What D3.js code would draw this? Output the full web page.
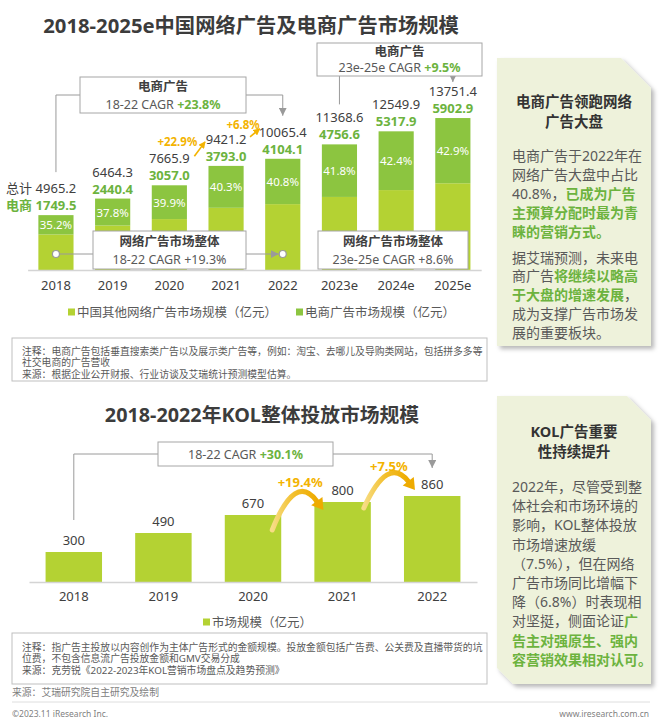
<!DOCTYPE html>
<html><head><meta charset="utf-8">
<script src="https://cdn.jsdelivr.net/npm/d3@7"></script>
<style>html,body{margin:0;padding:0;background:#fff;} svg{display:block;}</style>
</head><body><div id="chart"></div>
<script>
// ---------- DATA ----------
const years = ['2018','2019','2020','2021','2022','2023e','2024e','2025e'];
const totalValues = [4965.2, 6464.3, 7665.9, 9421.2, 10065.4, 11368.6, 12549.9, 13751.4];
const ecomValues = [1749.5, 2440.4, 3057.0, 3793.0, 4104.1, 4756.6, 5317.9, 5902.9];
const otherValues = [3215.7, 4023.9, 4608.9, 5628.2, 5961.3, 6612.0, 7232.0, 7848.5];
const ecomShareLabels = ['35.2%','37.8%','39.9%','40.3%','40.8%','41.8%','42.4%','42.9%'];
const topLegend = ['中国其他网络广告市场规模（亿元）', '电商广告市场规模（亿元）'];
const topTitle = '2018-2025e中国网络广告及电商广告市场规模';
const yoyLabels = ['+22.9%', '+6.8%'];

const kolYears = ['2018','2019','2020','2021','2022'];
const kolValues = [300, 490, 670, 800, 860];
const kolGrowth = ['+19.4%', '+7.5%'];
const kolTitle = '2018-2022年KOL整体投放市场规模';
const kolLegend = '市场规模（亿元）';

const note1 = ['注释：电商广告包括垂直搜索类广告以及展示类广告等，例如：淘宝、去哪儿及导购类网站，包括拼多多等',
               '社交电商的广告营收',
               '来源：根据企业公开财报、行业访谈及艾瑞统计预测模型估算。'];
const note2 = ['注释：指广告主投放以内容创作为主体广告形式的金额规模。投放金额包括广告费、公关费及直播带货的坑',
               '位费，不包含信息流广告投放金额和GMV交易分成',
               '来源：克劳锐《2022-2023年KOL营销市场盘点及趋势预测》'];
const panel1Title = ['电商广告领跑网络', '广告大盘'];
const panel1Body = [
  [['电商广告于2022年在',0]],
  [['网络广告大盘中占比',0]],
  [['40.8%，',0],['已成为广告',1]],
  [['主预算分配时最为青',1]],
  [['睐的营销方式。',1]],
  null,
  [['据艾瑞预测，未来电',0]],
  [['商广告',0],['将继续以略高',1]],
  [['于大盘的增速发展',1],['，',0]],
  [['成为支撑广告市场发',0]],
  [['展的重要板块。',0]]
];
const panel2Title = ['KOL广告重要', '性持续提升'];
const panel2Body = [
  [['2022年，尽管受到整',0]],
  [['体社会和市场环境的',0]],
  [['影响，KOL整体投放',0]],
  [['市场增速放缓',0]],
  [['（7.5%），但在网络',0]],
  [['广告市场同比增幅下',0]],
  [['降（6.8%）时表现相',0]],
  [['对坚挺，侧面论证',0],['广',1]],
  [['告主对强原生、强内',1]],
  [['容营销效果相对认可。',1]]
];

// ---------- SETUP ----------
const W = 660, H = 722;
const FONT = "'Noto Sans','Noto Sans CJK SC',sans-serif";
const C = {light:'#b4d233', dark:'#8cc540', green:'#6cb33e', orange:'#f3b300',
           text:'#404040', gray:'#595959', line:'#a6a6a6', panel:'#eef2db'};

const svg = d3.select('#chart').append('svg')
  .attr('width', W).attr('height', H).style('font-family', FONT);
svg.append('rect').attr('width', W).attr('height', H).attr('fill', '#fff');

const defs = svg.append('defs');
defs.append('marker').attr('id','garrow').attr('viewBox','0 0 10 10')
  .attr('refX',10).attr('refY',5).attr('markerWidth',8).attr('markerHeight',8)
  .attr('markerUnits','userSpaceOnUse').attr('orient','auto')
  .append('path').attr('d','M0,0 L10,5 L0,10 Z').attr('fill','#9a9a9a');
defs.append('marker').attr('id','oarrow').attr('viewBox','0 0 10 10')
  .attr('refX',9).attr('refY',5).attr('markerWidth',7).attr('markerHeight',7)
  .attr('markerUnits','userSpaceOnUse').attr('orient','auto')
  .append('path').attr('d','M0,0 L10,5 L0,10 Z').attr('fill',C.orange);
const f = defs.append('filter').attr('id','shadow').attr('x','-10%').attr('y','-10%').attr('width','130%').attr('height','130%');
f.append('feDropShadow').attr('dx',3).attr('dy',3).attr('stdDeviation',2).attr('flood-color','#000').attr('flood-opacity',0.28);

// ---------- TOP CHART ----------
svg.append('text').attr('x', 251).attr('y', 25).attr('text-anchor','middle')
  .attr('dominant-baseline','central').attr('font-size', 20.3).attr('font-weight','bold')
  .attr('fill', '#3c3c3c').text(topTitle);

const xTop = d3.scaleBand().domain(years).range([27.6, 481.2]).paddingInner(0.38).paddingOuter(0.19);
const yTop = d3.scaleLinear().domain([0, 14000]).range([270, 115.3]);
const xc = y => xTop(y) + xTop.bandwidth()/2;

const table = years.map((y,i) => ({year:y, other:otherValues[i], ecom:ecomValues[i]}));
const series = d3.stack().keys(['other','ecom'])(table);
const fills = {other:C.light, ecom:C.dark};

svg.append('g').selectAll('g').data(series).join('g').attr('fill', d => fills[d.key])
  .selectAll('rect').data(d => d).join('rect')
  .attr('x', d => xTop(d.data.year)).attr('width', xTop.bandwidth())
  .attr('y', d => yTop(d[1])).attr('height', d => yTop(d[0]) - yTop(d[1]));

const axTop = svg.append('g').attr('transform','translate(0,270)')
  .call(d3.axisBottom(xTop).tickSize(0).tickPadding(11));
axTop.select('.domain').attr('stroke','#d4d4d4').attr('stroke-width',1.5);
axTop.selectAll('text').attr('font-size',13).attr('fill',C.text).style('font-family',FONT);

// share labels
svg.append('g').selectAll('text').data(series[1]).join('text')
  .attr('x', d => xc(d.data.year)).attr('y', d => (yTop(d[0]) + yTop(d[1]))/2)
  .attr('text-anchor','middle').attr('dominant-baseline','central')
  .attr('font-size',11.5).attr('fill','#fff').text((d,i) => ecomShareLabels[i]);

// value labels
svg.append('g').selectAll('text').data(years).join('text')
  .attr('x', d => xc(d)).attr('y', (d,i) => yTop(totalValues[i]) - 27)
  .attr('text-anchor','middle').attr('dominant-baseline','central')
  .attr('font-size',13).attr('fill',C.text).text((d,i) => totalValues[i].toFixed(1));
svg.append('g').selectAll('text').data(years).join('text')
  .attr('x', d => xc(d)).attr('y', (d,i) => yTop(totalValues[i]) - 10)
  .attr('text-anchor','middle').attr('dominant-baseline','central')
  .attr('font-size',13).attr('font-weight','bold').attr('fill',C.green).text((d,i) => ecomValues[i].toFixed(1));
svg.append('text').attr('x', xc(years[0]) - 37).attr('y', yTop(totalValues[0]) - 27)
  .attr('text-anchor','middle').attr('dominant-baseline','central').attr('font-size',13).attr('fill',C.text).text('总计');
svg.append('text').attr('x', xc(years[0]) - 37).attr('y', yTop(totalValues[0]) - 10)
  .attr('text-anchor','middle').attr('dominant-baseline','central').attr('font-size',13)
  .attr('font-weight','bold').attr('fill',C.green).text('电商');

// helper: CAGR box
function cagrBox(x, y, w, h, title, lead, val, valColor){
  svg.append('rect').attr('x',x).attr('y',y).attr('width',w).attr('height',h)
    .attr('fill','#fff').attr('stroke',C.line).attr('stroke-width',1);
  const cx = x + w/2;
  let ly = y + h/2;
  if (title){
    svg.append('text').attr('x',cx).attr('y', y + h*0.27).attr('text-anchor','middle')
      .attr('dominant-baseline','central').attr('font-size',12.5).attr('font-weight','bold')
      .attr('fill',C.text).text(title);
    ly = y + h*0.74;
  }
  const t = svg.append('text').attr('x',cx).attr('y',ly).attr('text-anchor','middle')
    .attr('dominant-baseline','central').attr('font-size',12.5).attr('fill',C.gray);
  t.append('tspan').text(lead);
  t.append('tspan').attr('font-weight', valColor ? 'bold' : 'normal')
    .attr('fill', valColor || C.gray).text(val);
}
function gline(d, arrow){
  const p = svg.append('path').attr('d', d).attr('fill','none').attr('stroke','#9a9a9a').attr('stroke-width',1);
  if (arrow) p.attr('marker-end','url(#garrow)');
}

// box 1: 电商广告 18-22
gline(`M${xc('2018')},${yTop(totalValues[0]) - 43} V95 H80`);
gline(`M246,95 H${xc('2022')} V${yTop(totalValues[4]) - 43}`, true);
cagrBox(80, 77, 166, 36, '电商广告', '18-22 CAGR ', '+23.8%', C.green);
// box 2: 电商广告 23e-25e
gline(`M${xc('2023e')},75 V${yTop(totalValues[5]) - 40}`);
gline(`M${xc('2025e')},75 V${yTop(totalValues[7]) - 36}`, true);
cagrBox(317, 43, 165, 33, '电商广告', '23e-25e CAGR ', '+9.5%', C.green);
// box 3: 网络广告 18-22
gline(`M${xc('2018')},254 H93`);
gline(`M246,254 H${xc('2022') - 4}`, true);
[xc('2018'), xc('2022')].forEach(cx => svg.append('circle').attr('cx',cx).attr('cy',254).attr('r',3.5)
  .attr('fill','#fff').attr('stroke','#9a9a9a').attr('stroke-width',1.2));
cagrBox(93, 231, 153, 38, '网络广告市场整体', '18-22 CAGR ', '+19.3%', null);
// box 4
cagrBox(318, 231, 150, 38, '网络广告市场整体', '23e-25e CAGR ', '+8.6%', null);

// YoY arrows
svg.append('text').attr('x', xc('2020') + 8).attr('y', yTop(totalValues[3]) - 24)
  .attr('text-anchor','middle').attr('dominant-baseline','central').attr('font-size',11.5)
  .attr('font-weight','bold').attr('fill',C.orange).text(yoyLabels[0]);
svg.append('line').attr('x1', xc('2020') + 25).attr('y1', yTop(totalValues[2]) - 29)
  .attr('x2', xc('2021') - 21).attr('y2', yTop(totalValues[3]) - 24)
  .attr('stroke',C.orange).attr('stroke-width',1.6).attr('marker-end','url(#oarrow)');
svg.append('text').attr('x', xc('2021') + 17).attr('y', yTop(totalValues[4]) - 34)
  .attr('text-anchor','middle').attr('dominant-baseline','central').attr('font-size',11.5)
  .attr('font-weight','bold').attr('fill',C.orange).text(yoyLabels[1]);
svg.append('line').attr('x1', xc('2021') + 24).attr('y1', yTop(totalValues[4]) - 22)
  .attr('x2', xc('2022') - 23).attr('y2', yTop(totalValues[4]) - 30)
  .attr('stroke',C.orange).attr('stroke-width',1.6).attr('marker-end','url(#oarrow)');

// legend
[[68, C.light, topLegend[0]], [296, C.dark, topLegend[1]]].forEach(([x, col, label]) => {
  svg.append('rect').attr('x',x).attr('y',308.5).attr('width',7).attr('height',7).attr('fill',col);
  svg.append('text').attr('x',x+9).attr('y',312).attr('dominant-baseline','central')
    .attr('font-size',12.5).attr('fill',C.gray).text(label);
});

// note box
function noteBox(x, y, w, h, lines, y0){
  svg.append('rect').attr('x',x).attr('y',y).attr('width',w).attr('height',h)
    .attr('fill','#fff').attr('stroke','#bfbfbf').attr('stroke-width',1);
  lines.forEach((l,i) => svg.append('text').attr('x', x + 10).attr('y', y0 + i*11.5)
    .attr('dominant-baseline','central').attr('font-size',9.8).attr('fill',C.gray).text(l));
}
noteBox(12, 338, 475, 43, note1, 351);

// ---------- KOL CHART ----------
svg.append('text').attr('x', 262).attr('y', 414).attr('text-anchor','middle')
  .attr('dominant-baseline','central').attr('font-size', 19.8).attr('font-weight','bold')
  .attr('fill', '#3c3c3c').text(kolTitle);

const xK = d3.scaleBand().domain(kolYears).range([29, 477]).paddingInner(0.37).paddingOuter(0.185);
const yK = d3.scaleLinear().domain([0, 1000]).range([582, 482]);
const bw = xK.bandwidth();
const xkc = y => xK(y) + bw/2;

svg.append('g').selectAll('rect').data(kolYears).join('rect')
  .attr('x', d => xK(d)).attr('width', bw)
  .attr('y', (d,i) => yK(kolValues[i])).attr('height', (d,i) => yK(0) - yK(kolValues[i]))
  .attr('fill', C.light);
svg.append('g').selectAll('text').data(kolYears).join('text')
  .attr('x', d => xkc(d)).attr('y', (d,i) => yK(kolValues[i]) - 12)
  .attr('text-anchor','middle').attr('dominant-baseline','central')
  .attr('font-size',13).attr('fill',C.text).text((d,i) => kolValues[i]);

const axK = svg.append('g').attr('transform','translate(0,582)')
  .call(d3.axisBottom(xK).tickSize(0).tickPadding(10));
axK.select('.domain').attr('stroke','#d4d4d4').attr('stroke-width',1.5);
axK.selectAll('text').attr('font-size',13).attr('fill',C.text).style('font-family',FONT);

// CAGR box
gline(`M${xkc('2018')},${yK(kolValues[0]) - 32} V454 H158`);
gline(`M333,454 H${xkc('2022')} V${yK(kolValues[4]) - 28}`, true);
cagrBox(158, 442, 175, 24, null, '18-22 CAGR ', '+30.1%', C.green);

// curved growth arrows
const grad = defs.append('linearGradient').attr('id','og').attr('x1','0').attr('x2','1').attr('y1','0').attr('y2','0');
grad.append('stop').attr('offset','0').attr('stop-color','#f7dd86');
grad.append('stop').attr('offset','0.5').attr('stop-color','#f2be2a');
grad.append('stop').attr('offset','1').attr('stop-color','#eeab00');
function curvedArrow(s, c, e){
  const dx = e[0]-c[0], dy = e[1]-c[1], L = Math.hypot(dx,dy);
  const ux = dx/L, uy = dy/L, nx = -uy, ny = ux;
  const b = [e[0]-ux*11, e[1]-uy*11];
  svg.append('path').attr('d', `M${s[0]},${s[1]} Q${c[0]},${c[1]} ${b[0]},${b[1]}`)
    .attr('fill','none').attr('stroke','url(#og)').attr('stroke-width',5).attr('stroke-linecap','round');
  svg.append('path').attr('d', `M${e[0]},${e[1]} L${b[0]+nx*7},${b[1]+ny*7} L${b[0]-nx*7},${b[1]-ny*7} Z`)
    .attr('fill','#eeab00');
}
curvedArrow([xK('2020') + bw - 9, yK(kolValues[2]) + 15], [xK('2020') + bw + 14, yK(kolValues[3]) - 30],
            [xK('2021') + 9, yK(kolValues[3]) + 8]);
curvedArrow([xK('2021') + bw - 7, yK(kolValues[3]) + 6], [xK('2021') + bw + 17, yK(kolValues[4]) - 41],
            [xK('2022') + 11, yK(kolValues[4]) - 6]);
svg.append('text').attr('x', xK('2020') + bw + 19).attr('y', yK(kolValues[3]) - 20)
  .attr('text-anchor','middle').attr('dominant-baseline','central').attr('font-size',13)
  .attr('font-weight','bold').attr('fill',C.orange).text(kolGrowth[0]);
svg.append('text').attr('x', xK('2021') + bw + 18).attr('y', yK(kolValues[4]) - 30)
  .attr('text-anchor','middle').attr('dominant-baseline','central').attr('font-size',13)
  .attr('font-weight','bold').attr('fill',C.orange).text(kolGrowth[1]);

// legend
svg.append('rect').attr('x',203).attr('y',618.5).attr('width',7).attr('height',7).attr('fill',C.light);
svg.append('text').attr('x',212).attr('y',622).attr('dominant-baseline','central')
  .attr('font-size',12.5).attr('fill',C.gray).text(kolLegend);

noteBox(12, 633, 475, 51, note2, 647);
svg.append('text').attr('x',12).attr('y',692).attr('dominant-baseline','central')
  .attr('font-size',9.8).attr('fill','#808080').text('来源：艾瑞研究院自主研究及绘制');

// footer
svg.append('line').attr('x1',12).attr('x2',650).attr('y1',702).attr('y2',702).attr('stroke','#dedede').attr('stroke-width',1);
svg.append('text').attr('x',12).attr('y',713).attr('dominant-baseline','central')
  .attr('font-size',8.5).attr('fill','#7f7f7f').text('©2023.11 iResearch Inc.');
svg.append('text').attr('x',649).attr('y',713).attr('dominant-baseline','central').attr('text-anchor','end')
  .attr('font-size',8.5).attr('fill','#7f7f7f').text('www.iresearch.com.cn');

// ---------- SIDE PANELS ----------
function panel(x0, y0, x1, y1, cutTR, cutBL, title, titleY, body, bodyY, step, gap){
  svg.append('path').attr('d', `M${x0},${y0} L${x1-cutTR},${y0} L${x1},${y0+cutTR} L${x1},${y1} L${x0+cutBL},${y1} L${x0},${y1-cutBL} Z`)
    .attr('fill', C.panel).attr('filter','url(#shadow)');
  const cx = (x0 + x1)/2;
  title.forEach((t,i) => svg.append('text').attr('x',cx).attr('y',titleY + i*20)
    .attr('text-anchor','middle').attr('dominant-baseline','central')
    .attr('font-size',14.5).attr('font-weight','bold').attr('fill','#333').text(t));
  let y = bodyY;
  body.forEach(line => {
    if (!line){ y += gap; return; }
    const t = svg.append('text').attr('x', x0 + 15).attr('y', y).attr('dominant-baseline','central')
      .attr('font-size',14).attr('fill',C.gray);
    line.forEach(([s, hl]) => t.append('tspan').attr('font-weight', hl ? 'bold' : 'normal')
      .attr('fill', hl ? C.green : C.gray).text(s));
    y += step;
  });
}
panel(497, 58, 651, 346, 30, 0, panel1Title, 101, panel1Body, 155, 18.9, 7);
panel(497, 396, 651, 684, 24, 16, panel2Title, 431, panel2Body, 486, 19.2, 0);
</script>
</body></html>
